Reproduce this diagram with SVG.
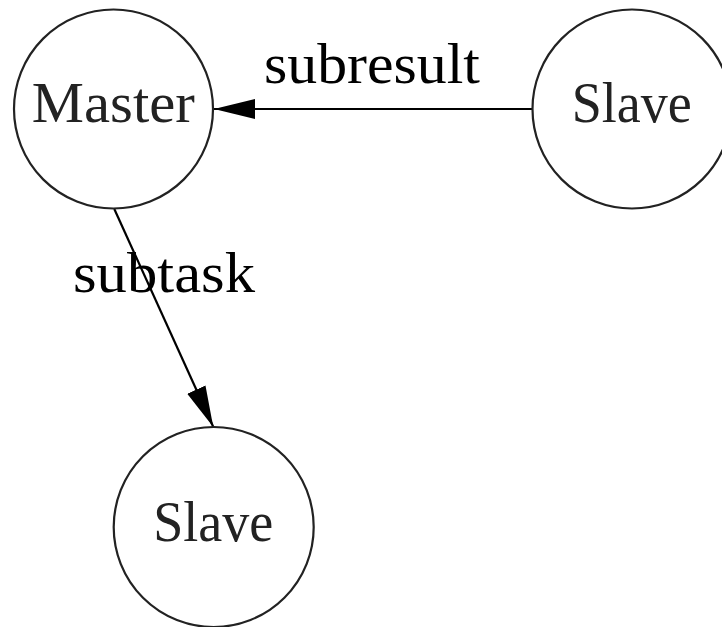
<svg xmlns="http://www.w3.org/2000/svg" width="722" height="627" viewBox="0 0 722 627">
<style>
.node circle{fill:none;stroke:#222;stroke-width:2.2}
.node text,.lbl{font-family:"Liberation Serif","Times New Roman",serif;font-size:58px;fill:#222;text-anchor:middle}
.lbl{fill:#000}
.edge{stroke:#000;stroke-width:2.2;fill:none}
</style>
<defs>
<marker id="ah" markerUnits="userSpaceOnUse" markerWidth="42" markerHeight="22" refX="41" refY="10" orient="auto" viewBox="0 0 42 20">
<path d="M0,0 L41,10 L0,20 Z" fill="#000"/>
</marker>
</defs>
<rect width="722" height="627" fill="#fff"/>
<g id="edges">
<g id="e-subresult">
<line class="edge" x1="532" y1="109" x2="214" y2="109" marker-end="url(#ah)"/>
<text class="lbl" x="372" y="83" textLength="216" lengthAdjust="spacingAndGlyphs">subresult</text>
</g>
<g id="e-subtask">
<line class="edge" x1="114.3" y1="209" x2="213.3" y2="427" marker-end="url(#ah)"/>
<text class="lbl" x="164" y="292" textLength="182" lengthAdjust="spacingAndGlyphs">subtask</text>
</g>
</g>
<g id="master" class="node">
<circle cx="113.5" cy="109" r="99.5"/>
<text x="113.3" y="122" textLength="163" lengthAdjust="spacingAndGlyphs">Master</text>
</g>
<g id="slave1" class="node">
<circle cx="632" cy="109" r="99.5"/>
<text x="631.7" y="122" textLength="120" lengthAdjust="spacingAndGlyphs">Slave</text>
</g>
<g id="slave2" class="node">
<circle cx="213.7" cy="527" r="100"/>
<text x="213.3" y="541" textLength="120" lengthAdjust="spacingAndGlyphs">Slave</text>
</g>
</svg>
